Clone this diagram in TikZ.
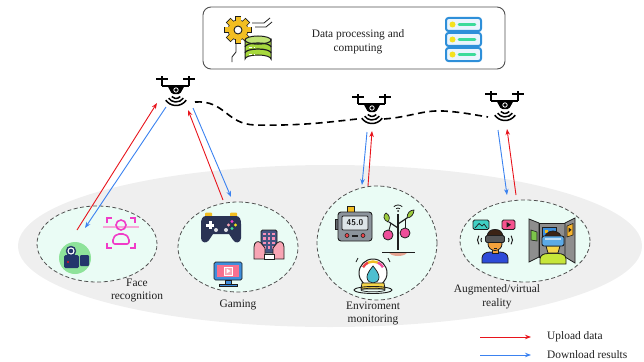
\documentclass[tikz,border=0pt]{standalone}
\usepackage{fontspec}
\setmainfont{Liberation Serif}
\usetikzlibrary{arrows.meta,shapes.geometric}
\definecolor{upred}{HTML}{E8141C}
\definecolor{downblue}{HTML}{3B82F0}
\definecolor{zonegray}{HTML}{EFEFEF}
\definecolor{mint}{HTML}{EAFCF5}
\definecolor{rimgray}{HTML}{505050}
\definecolor{ink}{HTML}{1E1E1E}
\definecolor{navy}{HTML}{23366B}
\definecolor{padnavy}{HTML}{2A3354}
\definecolor{gearyellow}{HTML}{F2BE22}
\definecolor{dbgreen}{HTML}{A6D83C}
\definecolor{srvblue}{HTML}{2E8FD9}
\definecolor{srvfill}{HTML}{EAF4FD}
\definecolor{dotyellow}{HTML}{F5E11E}
\definecolor{barmint}{HTML}{3CDB9A}
\definecolor{camgreen}{HTML}{8EE39A}
\definecolor{magenta}{HTML}{F03CC8}
\definecolor{softpink}{HTML}{F7A7D8}
\definecolor{handpink}{HTML}{F8A5B4}
\definecolor{screenpink}{HTML}{F7708F}
\definecolor{monblue}{HTML}{3E8EDC}
\definecolor{metergray}{HTML}{8C949C}
\definecolor{lcd}{HTML}{DDE5E8}
\definecolor{leafgreen}{HTML}{9BCB3C}
\definecolor{fruitpink}{HTML}{EE4E9A}
\definecolor{mound}{HTML}{E5A390}
\definecolor{droplet}{HTML}{4DBFD0}
\definecolor{baseyellow}{HTML}{F6D64A}
\definecolor{skin}{HTML}{F4A23C}
\definecolor{hair}{HTML}{3B2314}
\definecolor{shirtblue}{HTML}{2E4BD8}
\definecolor{shirtlime}{HTML}{C7E63A}
\definecolor{vrblue}{HTML}{5CAAE6}
\definecolor{teal}{HTML}{3FD0C4}
\definecolor{playpink}{HTML}{F6528E}
\definecolor{framegray}{HTML}{8E8E8E}
\definecolor{imgblue}{HTML}{3C8FDD}
\definecolor{imggreen}{HTML}{7CC44A}
\definecolor{imgyellow}{HTML}{F5B52E}
\tikzset{
  upload/.style={draw=upred, line width=0.9pt, -{Stealth[length=6pt,width=4.5pt]}},
  download/.style={draw=downblue, line width=0.9pt, -{Stealth[length=6pt,width=4.5pt]}},
  zone/.style={ellipse, draw=rimgray, fill=mint, dash pattern=on 4pt off 2.5pt, line width=0.8pt, inner sep=0pt},
  label/.style={align=center, inner sep=0pt, text=ink},
  link/.style={draw=black, line width=1.6pt, dash pattern=on 7pt off 4.5pt},
  pics/drone/.style={code={
    % propellers, posts and arms
    \fill[black] (-20,-12.8) rectangle (-8,-11.2);
    \fill[black] (7,-12.8) rectangle (19,-11.2);
    \fill[black] (-15,-15) rectangle (-13,-5);
    \fill[black] (12,-15) rectangle (14,-5);
    \fill[black] (-14,-6.2) rectangle (13,-4.2);
    % body with camera
    \fill[black, rounded corners=1.5pt] (-9,-6) -- (9,-6) -- (4,3) -- (-4,3) -- cycle;
    \draw[white, line width=0.8pt] (0,-1) circle (2.2);
    \fill[black] (0,-1) circle (0.9);
    % signal waves
    \draw[black, line width=1.5pt] (0,2) ++(40:5.5) arc[start angle=40, end angle=140, radius=5.5];
    \draw[black, line width=1.5pt] (0,2) ++(35:9) arc[start angle=35, end angle=145, radius=9];
    \draw[black, line width=1.5pt] (0,2) ++(35:12.5) arc[start angle=35, end angle=145, radius=12.5];
  }}
}
\begin{document}
\begin{tikzpicture}[x=1pt, y=-1pt, font=\fontsize{11.4}{13.5}\selectfont]
\useasboundingbox (0,0) rectangle (644,361);

% ground area
\fill[zonegray] (330,246) ellipse [x radius=312, y radius=81];

% processing box
\node[draw=rimgray, line width=0.9pt, rounded corners=8pt, minimum width=302pt, minimum height=62pt, inner sep=0pt] (cloud) at (354,38) {};
\node[label, font=\fontsize{11.4}{14.5}\selectfont] (cloudtext) at (358,42) {Data processing and\\computing};

% gear with database
\begin{scope}
  \draw[ink, line width=0.8pt] (252,23) -- (264,23) -- (270,18);
  \draw[ink, line width=0.8pt] (255,27) -- (266,27) -- (272,22);
  \draw[ink, line width=0.8pt] (236,44) -- (236,52) -- (232,57) -- (232,62);
  \foreach \a in {0,45,...,315}
    \filldraw[ink, line width=1.6pt, rotate around={\a:(238,30)}] (235.5,17) rectangle (240.5,22);
  \filldraw[ink, line width=1.6pt] (238,30) circle (9.5);
  \foreach \a in {0,45,...,315}
    \fill[gearyellow, rotate around={\a:(238,30)}] (235.5,17) rectangle (240.5,22);
  \fill[gearyellow] (238,30) circle (9.5);
  \filldraw[fill=white, draw=ink, line width=0.9pt] (238,30) circle (4);
  % database cylinder
  \filldraw[fill=dbgreen, draw=ink, line width=1pt] (245,40) -- (245,59) arc[start angle=180, end angle=0, x radius=13, y radius=-4] -- (271,40) arc[start angle=0, end angle=180, x radius=13, y radius=4];
  \filldraw[fill=dbgreen!70!white, draw=ink, line width=1pt] (258,40) ellipse [x radius=13, y radius=4];
  \draw[ink, line width=1.2pt] (245,47) arc[start angle=180, end angle=0, x radius=13, y radius=-4];
  \draw[ink, line width=1.2pt] (245,53) arc[start angle=180, end angle=0, x radius=13, y radius=-4];
  \foreach \yy in {48,54,60}
    \draw[white, line width=1pt] (249,\yy) -- (252,\yy) (254,\yy) -- (255,\yy);
\end{scope}

% server rack
\foreach \yy in {18,33,48} {
  \filldraw[fill=srvfill, draw=srvblue, line width=2pt, rounded corners=2.5pt] (446,\yy) rectangle (481,\yy+13);
  \fill[dotyellow] (452.5,\yy+6.5) circle (3);
  \draw[barmint, line width=2.6pt, line cap=round] (459,\yy+6.5) -- (475,\yy+6.5);
}

% drones
\pic (d1) at (176,91) {drone};
\pic (d2) at (372,109) {drone};
\pic (d3) at (505,106) {drone};

% links between drones
\coordinate (l1a) at (195,102);
\coordinate (l1b) at (357,119);
\coordinate (l2a) at (384,119);
\coordinate (l2b) at (488,117);
\draw[link] (l1a) .. controls (225,100) and (226,124) .. (255,125) .. controls (300,126) and (330,122) .. (l1b);
\draw[link] (l2a) .. controls (410,117) and (423,110) .. (443,111) .. controls (462,112) and (475,115) .. (l2b);

% application zones
\node[zone, minimum width=120pt, minimum height=76pt] (zface) at (97,244) {};
\node[zone, minimum width=120pt, minimum height=90pt] (zgame) at (238,247) {};
\node[zone, minimum width=120pt, minimum height=114pt] (zenv) at (377,243) {};
\node[zone, minimum width=130pt, minimum height=82pt] (zar) at (525,241) {};

% zone labels
\node[label] (lface) at (137,290.5) {Face\\recognition};
\node[label] (lgame) at (238,305) {Gaming};
\node[label] (lenv) at (373,313.5) {Enviroment\\monitoring};
\node[label] (lar) at (497,297) {Augmented/virtual\\reality};

% face recognition: camera badge
\fill[camgreen] (75,258) circle (16);
\fill[navy, rounded corners=1.5pt] (64,255) rectangle (79,268);
\fill[navy, rounded corners=1pt] (80,255) rectangle (89,266);
\filldraw[fill=navy, draw=navy] (71,251) circle (5);
\draw[white, line width=1.1pt] (71,251) circle (3);
\fill[upred] (68,262) circle (1.2);
% face recognition: scan frame
\draw[softpink, line width=1.5pt] (103,227) -- (139,227);
\draw[magenta, line width=2pt] (107,223) -- (107,218) -- (112,218);
\draw[magenta, line width=2pt] (130,218) -- (135,218) -- (135,223);
\draw[magenta, line width=2pt] (107,243) -- (107,248) -- (112,248);
\draw[magenta, line width=2pt] (130,248) -- (135,248) -- (135,243);
\draw[magenta, line width=1.6pt] (121,225) circle (5);
\draw[magenta, line width=1.6pt, rounded corners=2pt] (113,244) -- (113,238) -- (117,234) -- (125,234) -- (129,238) -- (129,244) -- cycle;

% gaming: gamepad
\fill[gearyellow, rounded corners=1pt] (205,212.5) rectangle (212,217);
\fill[gearyellow, rounded corners=1pt] (230,212.5) rectangle (237,217);
\fill[padnavy] (206,216) -- (236,216) .. controls (240,216) and (241,220) .. (241,224) -- (241,238) .. controls (241,243) and (235,244) .. (233,240) -- (229,234) -- (213,234) -- (209,240) .. controls (207,244) and (201,243) .. (201,238) -- (201,224) .. controls (201,220) and (202,216) .. (206,216) -- cycle;
\fill[white] (208.5,221) rectangle (211.5,229);
\fill[white] (206,223.5) rectangle (214,226.5);
\fill[magenta] (232,221.5) circle (1.6);
\fill[dotyellow] (235.5,225) circle (1.6);
\fill[barmint] (232,228.5) circle (1.6);
\fill[handpink] (228.5,225) circle (1.6);
\fill[white!85!padnavy] (216,230) circle (2);
\fill[white!85!padnavy] (226,230) circle (2);
% gaming: phone in hands
\filldraw[fill=navy!85!white, draw=ink, line width=0.8pt, rounded corners=1.5pt] (261,230) rectangle (277,253);
\foreach \cx in {264.5,269,273.5}
  \foreach \cy in {234,238.5,243,247.5}
    \fill[handpink!80!magenta] (\cx-1.2,\cy-1.2) rectangle (\cx+1.2,\cy+1.2);
\filldraw[fill=handpink, draw=ink, line width=0.8pt] (254,259) -- (254,247) .. controls (254,242) and (258,240) .. (261,243) -- (265,248) -- (265,259) -- cycle;
\filldraw[fill=handpink, draw=ink, line width=0.8pt] (284,259) -- (284,247) .. controls (284,242) and (280,240) .. (277,243) -- (273,248) -- (273,259) -- cycle;
\filldraw[fill=white, draw=ink, line width=0.8pt] (264,254) rectangle (274,259);
% gaming: monitor
\filldraw[fill=monblue, draw=ink, line width=0.7pt, rounded corners=1.5pt] (214,262) rectangle (242,280);
\fill[screenpink] (217,265) rectangle (239,277);
\filldraw[fill=handpink, draw=white, line width=0.6pt] (224,267) rectangle (232,275);
\fill[white] (226.5,268.5) -- (230.5,271) -- (226.5,273.5) -- cycle;
\filldraw[fill=monblue, draw=ink, line width=0.6pt] (225,280) rectangle (231,284);
\filldraw[fill=monblue, draw=ink, line width=0.6pt] (219,284) rectangle (237,286.5);

% environment: meter
\filldraw[fill=gearyellow, draw=ink, line width=0.7pt] (347,206.5) rectangle (354,212);
\filldraw[fill=metergray!70!black, draw=ink, line width=0.7pt] (335,219) rectangle (338,229);
\filldraw[fill=metergray, draw=ink, line width=0.9pt, rounded corners=3pt] (338,212) rectangle (372,241);
\filldraw[fill=lcd, draw=ink, line width=0.8pt, rounded corners=1pt] (342,216) rectangle (368,230);
\node[inner sep=0pt, text=ink, font=\sffamily\bfseries\fontsize{8.5}{8.5}\selectfont] (reading) at (355,223) {45.0};
\filldraw[fill=upred!80!white, draw=ink, line width=0.6pt] (347,235.5) circle (2);
\filldraw[fill=upred!80!white, draw=ink, line width=0.6pt] (363,235.5) circle (2);
\fill[ink] (352,234.5) rectangle (358,236.5);
% environment: connected plant
\draw[ink, line width=0.8pt] (398,211) ++(230:3) arc[start angle=230, end angle=310, radius=3];
\draw[ink, line width=0.8pt] (398,211) ++(225:6) arc[start angle=225, end angle=315, radius=6];
\fill[ink] (398,211) circle (1);
\draw[ink, line width=1.6pt] (398,214) -- (398,250);
\draw[ink, line width=1.2pt] (398,228) -- (389,222);
\draw[ink, line width=1.2pt] (398,224) -- (407,218);
\draw[ink, line width=0.9pt] (391,223) -- (389,230);
\draw[ink, line width=0.9pt] (405,219) -- (405,228);
\filldraw[fill=leafgreen, draw=ink, line width=0.7pt] (388,222) .. controls (383,220) and (383,215) .. (386,213) .. controls (390,215) and (390,219) .. (388,222) -- cycle;
\filldraw[fill=leafgreen, draw=ink, line width=0.7pt] (407,218) .. controls (407,213) and (410,210) .. (414,210) .. controls (414,214) and (411,218) .. (407,218) -- cycle;
\filldraw[fill=fruitpink, draw=ink, line width=0.8pt] (388,235) circle (5);
\filldraw[fill=fruitpink, draw=ink, line width=0.8pt] (405,233) circle (5);
\filldraw[fill=mound, draw=none] (389,252) arc[start angle=180, end angle=360, x radius=9, y radius=-4] -- cycle;
\draw[ink, line width=0.9pt] (382,252.5) -- (415,252.5);
% environment: humidity sensor
\draw[ink, line width=0.8pt] (356,262) -- (358,258);
\draw[ink, line width=0.8pt] (390,262) -- (388,258);
\filldraw[fill=white, draw=ink, line width=1pt] (373,273) circle (14);
\draw[line width=2.4pt, upred!80!white] (373,273) ++(210:11.5) arc[start angle=210, end angle=245, radius=11.5];
\draw[line width=2.4pt, gearyellow] (373,273) ++(245:11.5) arc[start angle=245, end angle=295, radius=11.5];
\draw[line width=2.4pt, fruitpink] (373,273) ++(295:11.5) arc[start angle=295, end angle=330, radius=11.5];
\filldraw[fill=droplet, draw=ink, line width=0.7pt] (373,266) .. controls (369,271) and (367,274) .. (367,277) .. controls (367,281) and (370,283) .. (373,283) .. controls (376,283) and (379,281) .. (379,277) .. controls (379,274) and (377,271) .. (373,266) -- cycle;
\filldraw[fill=baseyellow, draw=ink, line width=0.8pt] (362,283) -- (384,283) -- (385,289) -- (361,289) -- cycle;
\draw[ink, line width=0.9pt] (373,290) ellipse [x radius=19, y radius=3.5];
\draw[ink, line width=0.7pt] (373,290) ellipse [x radius=12, y radius=1.8];

% AR/VR: media badges
\filldraw[fill=teal, draw=ink, line width=0.8pt, rounded corners=1.5pt] (473,220) rectangle (489,229.5);
\draw[ink, line width=0.7pt] (475,228) -- (479,223.5) -- (482,226) -- (484,224) -- (487,228);
\filldraw[fill=playpink, draw=ink, line width=0.8pt, rounded corners=1.5pt] (502,220) rectangle (515,229.5);
\fill[ink] (506.5,222) -- (511,224.8) -- (506.5,227.5) -- cycle;
% AR/VR: listener with headset
\draw[ink, line width=1pt] (485,240) ++(150:4) arc[start angle=150, end angle=210, radius=4];
\draw[ink, line width=1pt] (485,240) ++(145:7.5) arc[start angle=145, end angle=215, radius=7.5];
\draw[ink, line width=1pt] (505,240) ++(-30:4) arc[start angle=-30, end angle=30, radius=4];
\draw[ink, line width=1pt] (505,240) ++(-35:7.5) arc[start angle=-35, end angle=35, radius=7.5];
\filldraw[fill=shirtblue, draw=ink, line width=0.8pt] (482,263) -- (482,258) .. controls (482,254) and (486,252) .. (490,252) -- (500,252) .. controls (504,252) and (508,254) .. (508,258) -- (508,263) -- cycle;
\filldraw[fill=skin, draw=ink, line width=0.7pt] (492,249) rectangle (498,253.5);
\filldraw[fill=skin, draw=ink, line width=0.8pt] (495,244) ellipse [x radius=7, y radius=6.5];
\filldraw[fill=hair, draw=ink, line width=0.8pt] (487,238) .. controls (487,231) and (491,229.5) .. (495,229.5) .. controls (499,229.5) and (503,231) .. (503,238) -- cycle;
\filldraw[fill=ink!75!white, draw=ink, line width=0.8pt, rounded corners=1.5pt] (485.5,235.5) rectangle (504.5,242.5);
\fill[ink] (493.5,247.5) rectangle (496.5,248.5);
% AR/VR: curved wall display
\filldraw[fill=framegray, draw=ink, line width=0.8pt] (529,219) -- (539,223) -- (539,257) -- (529,262) -- cycle;
\filldraw[fill=framegray, draw=ink, line width=0.8pt] (539,223) -- (565,223) -- (565,257) -- (539,257) -- cycle;
\filldraw[fill=framegray, draw=ink, line width=0.8pt] (565,223) -- (575,218) -- (575,263) -- (565,257) -- cycle;
\filldraw[fill=imggreen, draw=ink, line width=0.6pt] (531,230) -- (537,232) -- (537,241) -- (531,240) -- cycle;
\filldraw[fill=imgblue, draw=ink, line width=0.6pt] (542,227) rectangle (556,238);
\fill[gearyellow] (545,230) rectangle (548,233);
\filldraw[fill=imgyellow, draw=ink, line width=0.6pt] (567,226) -- (573,223.5) -- (573,235) -- (567,237) -- cycle;
\fill[ink] (568.5,227.5) -- (571.5,229.8) -- (568.5,232.5) -- cycle;
% AR/VR: viewer in goggles
\filldraw[fill=shirtlime, draw=ink, line width=0.8pt] (540,264) -- (540,259) .. controls (540,255) and (544,253.5) .. (548,253.5) -- (558,253.5) .. controls (562,253.5) and (566,255) .. (566,259) -- (566,264) -- cycle;
\filldraw[fill=hair, draw=ink, line width=0.8pt] (553,240) circle (9);
\filldraw[fill=baseyellow, draw=ink, line width=0.8pt] (546,246) -- (560,246) -- (558,253) -- (548,253) -- cycle;
\filldraw[fill=vrblue, draw=ink, line width=0.9pt, rounded corners=2pt] (542,236) rectangle (564,246);
\fill[white, opacity=0.6] (545,238) rectangle (561,239.5);

% uplink and downlink arrows
\coordinate (fup0) at (77,230);   \coordinate (fup1) at (157,103);
\coordinate (fdn0) at (166,107);  \coordinate (fdn1) at (85,228);
\coordinate (gup0) at (223,200);  \coordinate (gup1) at (188,110);
\coordinate (gdn0) at (193,108);  \coordinate (gdn1) at (231,197);
\coordinate (eup0) at (368,186);  \coordinate (eup1) at (372,131);
\coordinate (edn0) at (367,132);  \coordinate (edn1) at (362,185);
\coordinate (aup0) at (516,195);  \coordinate (aup1) at (507,129);
\coordinate (adn0) at (498,130);  \coordinate (adn1) at (507,195);
\draw[upload] (fup0) -- (fup1);
\draw[download] (fdn0) -- (fdn1);
\draw[upload] (gup0) -- (gup1);
\draw[download] (gdn0) -- (gdn1);
\draw[upload] (eup0) -- (eup1);
\draw[download] (edn0) -- (edn1);
\draw[upload] (aup0) -- (aup1);
\draw[download] (adn0) -- (adn1);

% legend
\coordinate (kup0) at (480,337);  \coordinate (kup1) at (531,337);
\coordinate (kdn0) at (480,355);  \coordinate (kdn1) at (531,355);
\draw[upload] (kup0) -- (kup1);
\draw[download] (kdn0) -- (kdn1);
\node[label, anchor=west] (kupt) at (547,337) {Upload data};
\node[label, anchor=west] (kdnt) at (547,355) {Download results};
\end{tikzpicture}
\end{document}
